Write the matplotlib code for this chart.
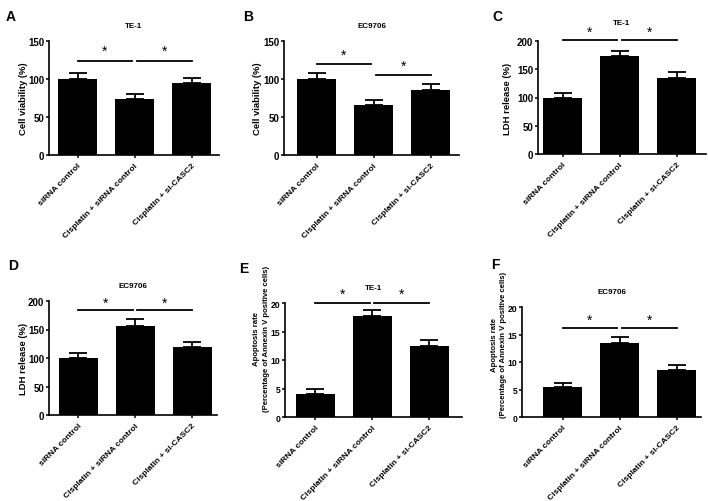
import matplotlib
matplotlib.use("Agg")
import matplotlib.pyplot as plt
import numpy as np

plt.rcParams['font.family'] = ['Liberation Sans', 'DejaVu Sans']
plt.rcParams['font.weight'] = 'bold'

W, H = 708, 502

groups = ["siRNA control", "Cisplatin + siRNA control", "Cisplatin + si-CASC2"]

# panel data (mean, SD)
viab_te1 = [100, 74, 95]
viab_te1_err = [8, 6, 6]
viab_ec = [100, 66, 86]
viab_ec_err = [8, 6, 8]
ldh_te1 = [100, 173, 135]
ldh_te1_err = [8, 9, 11]
ldh_ec = [100, 157, 120]
ldh_ec_err = [8, 12, 8]
apo_te1 = [4.1, 17.8, 12.4]
apo_te1_err = [0.8, 0.9, 1.1]
apo_ec = [5.4, 13.5, 8.6]
apo_ec_err = [0.8, 1.1, 0.9]

apo_label = "Apoptosis rate\n(Percentage of Annexin V positive cells)"

# letter, title, ylabel, values, errors, ymax, yticks, sig lines (y1, y2), star y (s1, s2)
panels = [
    ("A", "TE-1", "Cell viability (%)", viab_te1, viab_te1_err, 150, [0, 50, 100, 150], (124, 124), (137, 137)),
    ("B", "EC9706", "Cell viability (%)", viab_ec, viab_ec_err, 150, [0, 50, 100, 150], (120, 105), (132, 117)),
    ("C", "TE-1", "LDH release (%)", ldh_te1, ldh_te1_err, 200, [0, 50, 100, 150, 200], (201, 201), (217, 217)),
    ("D", "EC9706", "LDH release (%)", ldh_ec, ldh_ec_err, 200, [0, 50, 100, 150, 200], (184, 184), (197, 197)),
    ("E", "TE-1", apo_label, apo_te1, apo_te1_err, 20, [0, 5, 10, 15, 20], (20, 20), (21.6, 21.6)),
    ("F", "EC9706", apo_label, apo_ec, apo_ec_err, 20, [0, 5, 10, 15, 20], (16.1, 16.1), (17.7, 17.7)),
]

# pixel layout: spine x, first bar centre x, right end x, top y, bottom y,
# title offset, letter pos, ylabel y (axes frac), ylabel right edge offset (px),
# y tick size, y label size
layout = [
    (49, 77.5, 219, 42, 156, 15, (11, 17), 0.5, -21, 7, 6.8),
    (284, 316.5, 459, 42, 156, 15, (248, 17), 0.5, -22, 7, 6.8),
    (538, 562.5, 706, 42, 155, 18, (497, 17), 0.5, -26, 7, 6.8),
    (49, 78, 217, 302, 416, 16, (13, 266), 0.5, -21, 7, 6.8),
    (285, 315, 462, 304, 418, 16, (244, 269), 0.69, -15, 6.2, 5.6),
    (522, 562.5, 701, 308, 418, 15, (495, 265), 0.66, -15, 6.2, 5.6),
]

step = 57.0
fig = plt.figure(figsize=(W / 100, H / 100), dpi=100)

for p, lay in zip(panels, layout):
    letter, title, ylab, vals, errs, ymax, yt, sig, star = p
    sx, c0, rx, ty, by, toff, lpos, ly, lx, yts, yls = lay
    ax = fig.add_axes([sx / W, 1 - by / H, (rx - sx) / W, (by - ty) / H])
    x = np.arange(3)
    ax.bar(x, vals, width=39 / step, color="black", zorder=2)
    ax.errorbar(x, vals, yerr=[np.zeros(3), errs], fmt="none", ecolor="black",
                elinewidth=1.3, capsize=6.5, capthick=1.3, zorder=3)
    ax.set_xlim(-(c0 - sx) / step, 2 + (rx - c0 - 2 * step) / step)
    ax.set_ylim(0, ymax)
    ax.set_yticks(yt)
    ax.set_xticks(x)
    ax.set_xticklabels(groups, rotation=45, ha="right", rotation_mode="anchor",
                       fontsize=6.0, fontweight="bold")
    for lab in ax.get_yticklabels():
        lab.set_fontsize(yts)
        lab.set_fontweight("bold")
    ax.tick_params(direction="out", length=2.5, width=1.1, pad=1)
    ax.tick_params(axis="x", pad=2.5)
    for s in ["top", "right"]:
        ax.spines[s].set_visible(False)
    for s in ["left", "bottom"]:
        ax.spines[s].set_linewidth(1.2)
    ax.set_ylabel(ylab, fontsize=yls, fontweight="bold", linespacing=1.5)
    ax.yaxis.set_label_coords(lx / (rx - sx), ly)
    ax.annotate(title, xy=(0.5, 1), xycoords="axes fraction", xytext=(0, toff * 0.72),
                textcoords="offset points", ha="center", va="center",
                fontsize=5.8, fontweight="bold")
    # significance bars
    ax.plot([0, 0.96], [sig[0], sig[0]], color="black", lw=1.3, clip_on=False)
    ax.plot([1.04, 2], [sig[1], sig[1]], color="black", lw=1.3, clip_on=False)
    ax.text(0.48, star[0], "*", ha="center", va="center", fontsize=10, fontweight="normal")
    ax.text(1.52, star[1], "*", ha="center", va="center", fontsize=10, fontweight="normal")
    fig.text(lpos[0] / W, 1 - lpos[1] / H, letter, ha="center", va="center",
             fontsize=10, fontweight="bold")

fig.savefig("out.png", dpi=100)
